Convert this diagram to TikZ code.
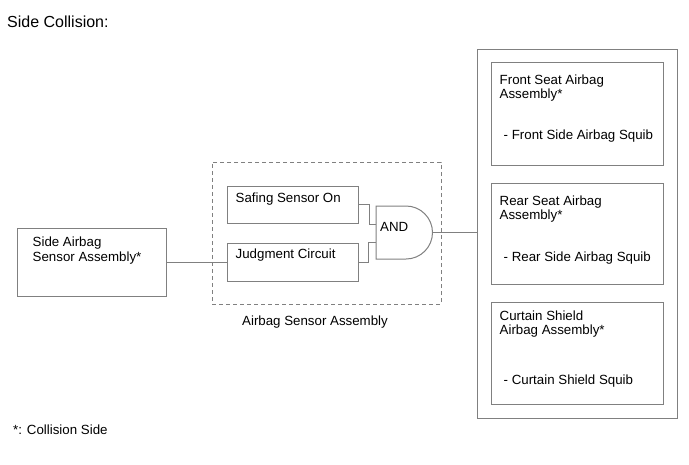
\documentclass[tikz,border=0pt]{standalone}
\usepackage{fontspec}
\setmainfont{Liberation Sans}
\definecolor{linegray}{RGB}{128,128,128}
\tikzset{
  box/.style={draw=linegray, line width=1pt, inner sep=0pt},
  wire/.style={draw=linegray, line width=1pt},
  txt/.style={anchor=base west, inner sep=0pt, font=\fontsize{13.3}{16}\selectfont},
}

\begin{document}
\begin{tikzpicture}[x=1pt, y=-1pt]
  \useasboundingbox (0,0) rectangle (689,464);
  \node[txt, font=\fontsize{16}{19}\selectfont] (title) at (7,27) {Side Collision:};

  % sensor on the left
  \node[box, minimum width=149, minimum height=68] (sensor) at (91.5,262) {};
  \node[txt] (sensora) at ([shift={(16,19)}]sensor.north west) {Side Airbag};
  \node[txt] (sensorb) at ([shift={(16,34)}]sensor.north west) {Sensor Assembly*};

  % airbag sensor assembly
  \node[box, dash pattern=on 4pt off 3pt, minimum width=229, minimum height=142] (asm) at (326.5,233) {};
  \node[txt] (asmlabel) at (242,325) {Airbag Sensor Assembly};
  \node[box, minimum width=131, minimum height=37] (safing) at (292.5,204.5) {};
  \node[txt] (safingtxt) at ([shift={(9,17)}]safing.north west) {Safing Sensor On};
  \node[box, minimum width=131, minimum height=38] (judgment) at (292.5,262) {};
  \node[txt] (judgmenttxt) at ([shift={(9,16)}]judgment.north west) {Judgment Circuit};

  % and gate
  \draw[wire] (376,206) -- (406,206) arc[start angle=-90, end angle=90, radius=26.5] -- (376,259) -- cycle;
  \coordinate (gin1) at (376,224);
  \coordinate (gin2) at (376,242);
  \coordinate (gout) at (432.5,232.5);
  \node[txt] (andtxt) at (380,231) {AND};

  % squibs on the right
  \node[box, minimum width=200, minimum height=369] (squibs) at (577,233.5) {};
  \node[box, minimum width=172, minimum height=103] (front) at (577,113.5) {};
  \node[txt] (fronta) at ([shift={(9,23)}]front.north west) {Front Seat Airbag};
  \node[txt] (frontb) at ([shift={(9,37)}]front.north west) {Assembly*};
  \node[txt] (frontc) at ([shift={(13,78)}]front.north west) {- Front Side Airbag Squib};
  \node[box, minimum width=172, minimum height=101] (rear) at (577,233.5) {};
  \node[txt] (reara) at ([shift={(9,23)}]rear.north west) {Rear Seat Airbag};
  \node[txt] (rearb) at ([shift={(9,37)}]rear.north west) {Assembly*};
  \node[txt] (rearc) at ([shift={(13,79)}]rear.north west) {- Rear Side Airbag Squib};
  \node[box, minimum width=172, minimum height=102] (curtain) at (577,353) {};
  \node[txt] (curtaina) at ([shift={(9,19)}]curtain.north west) {Curtain Shield};
  \node[txt] (curtainb) at ([shift={(9,33)}]curtain.north west) {Airbag Assembly*};
  \node[txt] (curtainc) at ([shift={(13,83)}]curtain.north west) {- Curtain Shield Squib};

  % wiring
  \draw[wire] (sensor.east) -- (judgment.west);
  \draw[wire] (safing.east) -- ++(11,0) |- (gin1);
  \draw[wire] (judgment.east) -- ++(10,0) |- (gin2);
  \draw[wire] (gout) -- (gout -| squibs.west);

  \node[txt] (note) at (13,434) {*: Collision Side};
\end{tikzpicture}
\end{document}
